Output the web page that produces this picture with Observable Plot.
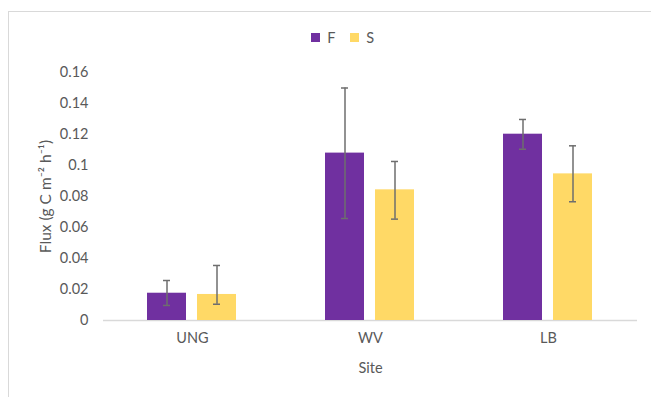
<!DOCTYPE html>
<html>
<head>
<meta charset="utf-8">
<script src="https://cdn.jsdelivr.net/npm/d3@7"></script>
<script src="https://cdn.jsdelivr.net/npm/@observablehq/plot@0.6"></script>
<style>
  body { margin: 0; background: #fff; font-family: Lato, "Open Sans", sans-serif; }
  #chart { position: relative; width: 651px; height: 397px; overflow: hidden; }
  #frame { position: absolute; left: 8px; top: 11px; width: 700px; height: 450px;
           border: 1px solid #d9d9d9; box-sizing: border-box; }
  #legend { position: absolute; left: 311px; top: 21px; height: 20px; }
  #plot { position: absolute; left: 0; top: 55px; }
  .lg-swatches { font-family: Lato, sans-serif; font-size: 14.5px; color: #595959; }
  g[aria-label="y-axis label"] text { font-size: 15.5px; }
</style>
</head>
<body>
<div id="chart">
  <div id="frame"></div>
  <div id="legend"></div>
  <div id="plot"></div>
</div>
<script>
// Sites along the x axis and the two series (F, S)
const sites = ["UNG", "WV", "LB"];
const series = ["F", "S"];
const colors = ["#7030A0", "#FFD966"];

// Mean flux per site (g C m-2 h-1)
const fluxF = [0.0176, 0.108, 0.1202];
const fluxS = [0.0168, 0.0843, 0.0946];

// Error bar extents per site
const lowF = [0.0097, 0.0658, 0.1105];
const highF = [0.0258, 0.150, 0.1297];
const lowS = [0.0105, 0.0654, 0.0766];
const highS = [0.0355, 0.1026, 0.1127];

// Y axis tick values
const yTicks = [0, 0.02, 0.04, 0.06, 0.08, 0.1, 0.12, 0.14, 0.16];

const rows = [];
sites.forEach((site, i) => {
  rows.push({site, series: "F", value: fluxF[i], lo: lowF[i], hi: highF[i]});
  rows.push({site, series: "S", value: fluxS[i], lo: lowS[i], hi: highS[i]});
});

const errStroke = "#6e6e6e";

const chart = Plot.plot({
  width: 651,
  height: 342,
  marginLeft: 102,
  marginRight: 14,
  marginTop: 17,
  marginBottom: 77,
  style: {fontFamily: "Lato, sans-serif", fontSize: "14.5px", color: "#595959", background: "transparent"},
  facet: {data: rows, x: "site"},
  fx: {domain: sites, padding: 0, label: "Site", labelAnchor: "center", tickSize: 0, tickPadding: 12, labelOffset: 52, axis: "bottom"},
  x: {domain: series, paddingInner: 0.2157, paddingOuter: 0.856, axis: null},
  y: {domain: [0, 0.16], ticks: yTicks, tickFormat: d => String(+d.toFixed(2)), tickSize: 0, tickPadding: 15,
      label: "Flux (g C m⁻² h⁻¹)", labelAnchor: "center", labelOffset: 64, labelArrow: false},
  color: {domain: series, range: colors},
  marks: [
    Plot.ruleY([0], {stroke: "#d9d9d9", strokeWidth: 1.3}),
    Plot.barY(rows, {x: "series", y: "value", fill: "series"}),
    Plot.ruleX(rows, {x: "series", y1: "lo", y2: "hi", stroke: errStroke, strokeWidth: 1.5}),
    Plot.tickY(rows, {x: "series", y: "lo", stroke: errStroke, strokeWidth: 1.5, insetLeft: 16, insetRight: 16}),
    Plot.tickY(rows, {x: "series", y: "hi", stroke: errStroke, strokeWidth: 1.5, insetLeft: 16, insetRight: 16})
  ]
});
document.getElementById("plot").appendChild(chart);

const legend = Plot.legend({
  color: {domain: series, range: colors},
  legend: "swatches",
  swatchSize: 9,
  className: "lg"
});
document.getElementById("legend").appendChild(legend);
</script>
</body>
</html>
